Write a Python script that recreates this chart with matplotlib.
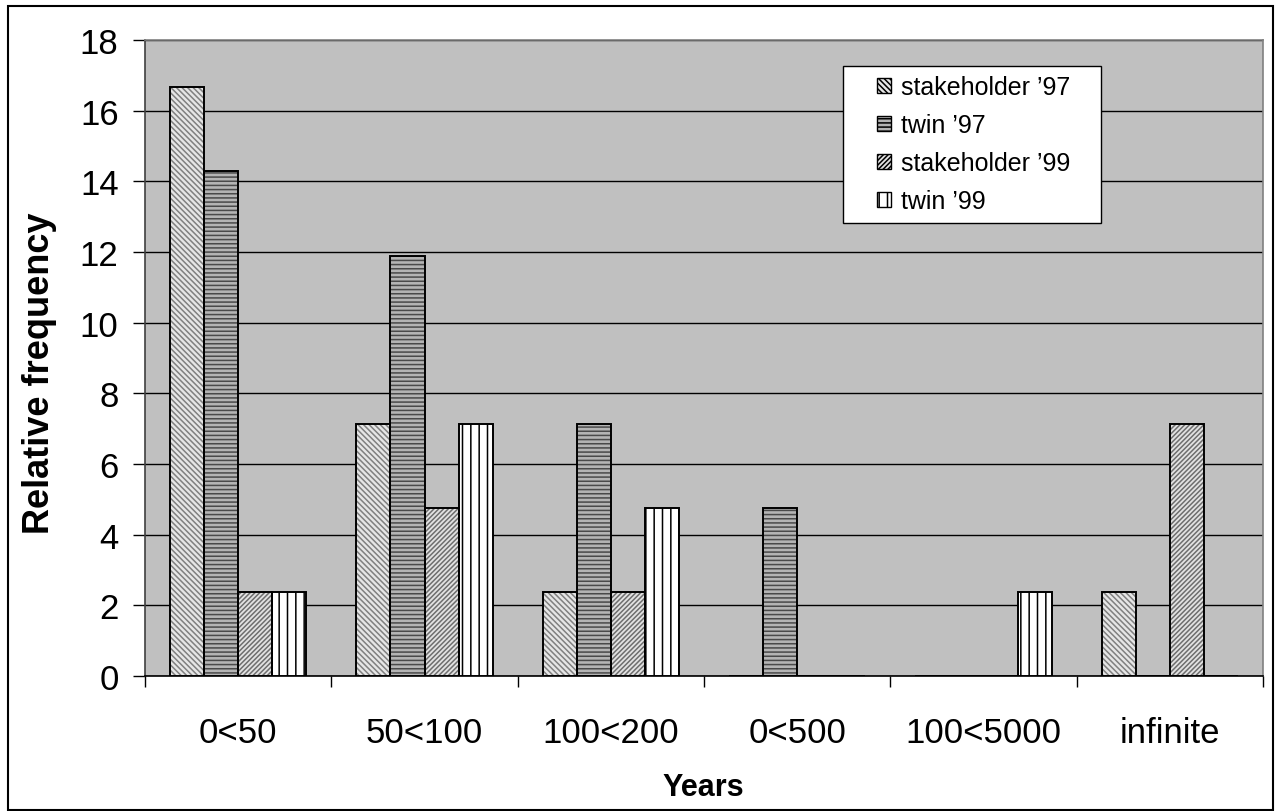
import matplotlib
matplotlib.use("Agg")
import matplotlib.pyplot as plt
import numpy as np
from matplotlib.patches import Patch, Rectangle

plt.rcParams['font.family'] = ['Liberation Sans', 'DejaVu Sans']
plt.rcParams['hatch.linewidth'] = 1.1

# Relative frequency (%) of answers per time horizon
categories = ['0<50', '50<100', '100<200', '0<500', '100<5000', 'infinite']
series_names = ['stakeholder \u201997', 'twin \u201997', 'stakeholder \u201999', 'twin \u201999']
stakeholder_97 = [16.67, 7.14, 2.38, 0, 0, 2.38]
twin_97 = [14.29, 11.90, 7.14, 4.76, 0, 0]
stakeholder_99 = [2.38, 4.76, 2.38, 0, 0, 7.14]
twin_99 = [2.38, 7.14, 4.76, 0, 2.38, 0]
y_ticks = list(range(0, 19, 2))

series = [stakeholder_97, twin_97, stakeholder_99, twin_99]
# (face colour, hatch, hatch colour) for each series
styles = [
    ('#e6e6e6', '\\\\\\\\\\\\', '#808080'),
    ('#b4b4b4', '----', '#4a4a4a'),
    ('#e2e2e2', '///////', '#6e6e6e'),
    ('white', '||', 'black'),
]

fig = plt.figure(figsize=(12.76, 8.12), dpi=100)
ax = fig.add_axes([145 / 1276, 135 / 812, 1118 / 1276, 636 / 812])
ax.set_facecolor('#c0c0c0')

x = np.arange(len(categories)) + 0.5
w = 0.183
for i, (vals, (fc, hatch, hc)) in enumerate(zip(series, styles)):
    pos = x + (i - 1.5) * w
    ax.bar(pos, vals, width=w, color=fc, hatch=hatch, edgecolor=hc,
           linewidth=0, zorder=3)
    ax.bar(pos, vals, width=w, fill=False, edgecolor='black',
           linewidth=1.4, zorder=4)

ax.set_xlim(0, len(categories))
ax.set_ylim(0, 18)

# horizontal grid lines
ax.set_yticks(y_ticks)
ax.yaxis.grid(True, color='black', linewidth=1.0, zorder=1)
ax.set_axisbelow(True)
ax.tick_params(axis='y', direction='out', length=9, width=1.0,
               labelsize=25, pad=10)

# ticks between the groups, labels under the group centres
ax.set_xticks(np.arange(len(categories) + 1))
ax.set_xticklabels([])
ax.set_xticks(x, minor=True)
ax.set_xticklabels(categories, minor=True)
ax.tick_params(axis='x', which='major', direction='out', length=8, width=1.0)
ax.tick_params(axis='x', which='minor', length=0, labelsize=25, pad=29)

for side in ['top', 'right']:
    ax.spines[side].set_color('#808080')
    ax.spines[side].set_linewidth(1.2)
ax.spines['left'].set_color('#404040')
ax.spines['left'].set_linewidth(1.2)
ax.spines['bottom'].set_color('black')
ax.spines['bottom'].set_linewidth(1.2)

fig.text(40 / 1276, 1 - 373 / 812, 'Relative frequency', rotation=90,
         fontsize=26, fontweight='bold', ha='center', va='center')
fig.text(703 / 1276, 1 - 788 / 812, 'Years', fontsize=22,
         fontweight='bold', ha='center', va='center')

# legend box drawn separately so the padding can be wider than tall
ax.add_patch(Rectangle((843 / 1276, 1 - 224 / 812), 258 / 1276, 157 / 812,
                       transform=fig.transFigure, facecolor='white',
                       edgecolor='black', linewidth=1.0, zorder=9,
                       clip_on=False))
handles = [Patch(facecolor=fc, hatch=hatch, edgecolor='black', linewidth=1.0)
           for fc, hatch, hc in styles]
leg = ax.legend(handles, series_names, loc='upper left',
                bbox_to_anchor=(877 / 1276, 1 - 76 / 812),
                bbox_transform=fig.transFigure, fontsize=18, frameon=False,
                handlelength=0.55, handleheight=0.55, handletextpad=0.42,
                labelspacing=0.56, borderpad=0, borderaxespad=0)
leg.set_zorder(10)

# outer chart border
fig.patches.append(Rectangle((8 / 1276, 1 / 812), 1265 / 1276, 804 / 812,
                             transform=fig.transFigure, fill=False,
                             edgecolor='black', linewidth=1.5))

fig.savefig('out.png', dpi=100)
